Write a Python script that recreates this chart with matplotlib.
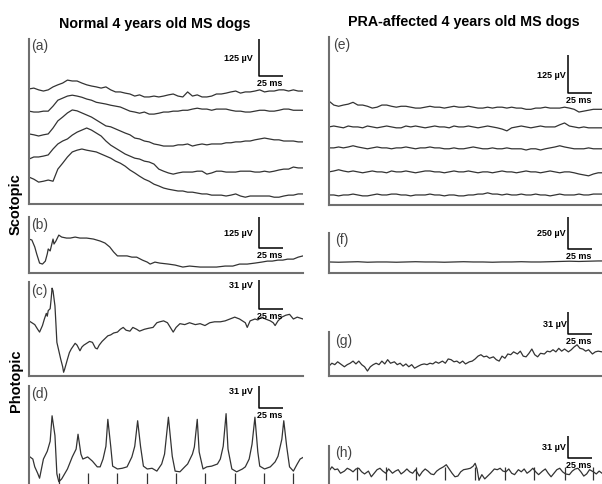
import matplotlib
matplotlib.use("Agg")
import matplotlib.pyplot as plt
import numpy as np

plt.rcParams['font.family'] = ['Liberation Sans', 'DejaVu Sans']

# ---------------- data (time in ms, amplitude in µV) ----------------
TITLE_LEFT = "Normal 4 years old MS dogs"
TITLE_RIGHT = "PRA-affected 4 years old MS dogs"
ROW_LABELS = ["Scotopic", "Photopic"]
PANEL_LETTERS = ["(a)", "(b)", "(c)", "(d)", "(e)", "(f)", "(g)", "(h)"]
SCALE_UV = {"a": "125 µV", "b": "125 µV", "c": "31 µV", "d": "31 µV",
            "e": "125 µV", "f": "250 µV", "g": "31 µV", "h": "31 µV"}
SCALE_UV_VAL = {"a": 125, "b": 125, "c": 31, "d": 31, "e": 125, "f": 250, "g": 31, "h": 31}
SCALE_MS_LABEL = "25 ms"
SCALE_MS_VAL = 25

T_A = [0, 5, 10, 15, 20, 25, 30, 35, 40, 45, 50, 55, 60, 65, 70, 75, 80, 85, 90, 95,
       100, 105, 110, 115, 120, 125, 130, 135, 140, 145, 150, 155, 160, 165, 170, 175,
       180, 185, 190, 195, 200, 205, 210, 215, 220, 225, 230, 235, 240, 245, 250, 255,
       260, 265, 270, 275, 280, 285]

a1 = [0, 3, -3, -7, -3, 7, 14, 20, 30, 27, 27, 20, 14, 10, 7, 3, 7, -3, -10, -10,
      -14, -17, -24, -20, -27, -27, -24, -27, -24, -20, -17, -24, -27, -10, -24, -20,
      -27, -27, -24, -17, -17, -14, -10, -7, -14, -10, -10, -7, -3, -10, -7, -7, -3,
      -3, -7, -3, -7, -7]
a2 = [0, -3, -3, 0, 0, 17, 37, 44, 51, 54, 51, 47, 41, 37, 30, 27, 24, 20, 17, 14,
      7, 0, -3, -7, -3, -10, -10, -7, -3, -3, 0, 0, 3, 3, 7, 10, 7, 7, 3, 7, 7, 7, 3,
      0, 0, -3, -3, 0, 3, 3, 0, 0, 3, 7, 7, 3, 3, 3]
a3 = [0, -3, -7, -3, 0, 20, 44, 57, 71, 81, 78, 71, 64, 57, 47, 37, 27, 24, 17, 10,
      3, -3, -14, -17, -24, -27, -34, -37, -41, -41, -41, -37, -37, -34, -41, -37, -34,
      -37, -34, -34, -34, -30, -30, -27, -27, -24, -24, -20, -17, -14, -17, -20, -20,
      -24, -24, -24, -27, -27]
a4 = [0, 7, 7, 10, 14, 34, 51, 61, 68, 81, 91, 98, 105, 98, 88, 78, 61, 47, 37, 27,
      17, 10, 3, 0, -7, -10, -17, -34, -41, -47, -51, -47, -44, -44, -44, -41, -41,
      -51, -47, -41, -41, -44, -44, -44, -41, -41, -41, -44, -44, -41, -44, -41, -37,
      -34, -34, -27, -30, -30]
a5 = [0, -7, -17, -14, -10, -14, 27, 47, 68, 85, 91, 95, 91, 88, 85, 78, 71, 64, 54,
      47, 37, 24, 14, 3, -7, -14, -24, -30, -37, -41, -44, -47, -47, -51, -51, -54,
      -57, -57, -61, -61, -61, -64, -61, -57, -64, -68, -64, -64, -64, -64, -64, -68,
      -68, -64, -61, -61, -57, -57]

b_t = [0, 3, 6, 8, 11, 14, 17, 19, 20, 22, 24, 25, 26, 28, 29, 31, 34, 39, 43, 48,
       53, 60, 67, 74, 79, 84, 88, 92, 97, 102, 107, 112, 118, 123, 126, 131, 136, 145,
       152, 160, 167, 178, 188, 195, 204, 212, 219, 227, 235, 242, 248, 253, 259, 264,
       269, 275, 280, 285]
b_v = [137, 133, 105, 77, 40, 36, 48, 77, 97, 89, 121, 137, 117, 129, 137, 153, 145,
       141, 141, 145, 141, 141, 137, 129, 121, 105, 85, 69, 69, 69, 64, 64, 52, 44, 36,
       44, 40, 36, 32, 24, 28, 24, 24, 24, 28, 28, 36, 36, 40, 44, 48, 48, 52, 52, 56,
       56, 64, 69]

c_t = [0, 3, 6, 9, 11, 14, 16, 18, 19, 20, 22, 23, 24, 25, 27, 28, 29, 31, 33, 35,
       36, 37, 40, 42, 44, 46, 48, 50, 53, 55, 57, 60, 63, 66, 69, 71, 73, 76, 79, 82,
       85, 88, 92, 95, 98, 101, 105, 108, 112, 115, 120, 124, 129, 133, 136, 140, 144,
       147, 150, 153, 157, 162, 167, 173, 178, 183, 188, 193, 199, 204, 209, 214, 219,
       225, 227, 230, 235, 238, 242, 246, 251, 254, 256, 259, 263, 267, 271, 275, 279,
       282, 285]
c_v = [59, 57, 55, 50, 47, 54, 61, 67, 64, 70, 72, 82, 94, 91, 75, 56, 36, 27, 18, 10,
       4, 7, 18, 25, 29, 32, 35, 33, 27, 31, 33, 35, 37, 36, 30, 29, 33, 37, 40, 43,
       44, 46, 47, 50, 52, 49, 48, 52, 50, 48, 50, 51, 52, 57, 58, 59, 57, 52, 47, 52,
       56, 55, 57, 55, 56, 54, 57, 58, 58, 59, 61, 63, 61, 57, 52, 59, 61, 60, 63, 61,
       59, 57, 54, 59, 63, 65, 66, 61, 63, 62, 61]

d_t = [0, 4, 6, 9, 11, 15, 19, 22, 24, 27, 29, 31, 34, 40, 45, 49, 51, 54, 56, 61,
       66, 71, 74, 77, 80, 82, 85, 87, 92, 97, 102, 107, 110, 113, 116, 119, 123, 128,
       133, 138, 141, 145, 149, 152, 157, 162, 165, 170, 172, 175, 177, 181, 185, 190,
       196, 199, 202, 205, 207, 211, 216, 222, 225, 229, 232, 235, 238, 240, 245, 251,
       256, 259, 263, 265, 268, 271, 275, 279, 282, 286]
d_v = [42, 38, 27, 18, 11, 38, 49, 63, 99, 71, 17, 6, 10, 24, 41, 52, 73, 45, 38, 41,
       35, 27, 27, 38, 56, 94, 56, 28, 24, 25, 27, 41, 56, 92, 56, 28, 24, 25, 21, 31,
       45, 97, 42, 21, 20, 27, 31, 45, 55, 94, 48, 24, 27, 28, 31, 38, 56, 102, 52, 24,
       20, 24, 27, 38, 59, 97, 48, 28, 24, 27, 34, 42, 66, 92, 56, 27, 21, 31, 38, 41]
d_flash_ms = [31, 61, 92, 123, 153, 183, 214, 244, 275]

T_E = T_A
e1 = [20, 7, 3, 7, 10, 16, 7, 7, 3, -3, 0, 7, 7, 3, 0, 3, 3, 0, -3, -3, 0, 3, 0, 0,
      -3, 0, 3, 0, 0, 3, 0, -3, -3, 0, -3, 0, 0, -3, 0, -3, -3, -7, -7, -3, -3, 0, -3,
      -3, -3, 0, -3, -7, -16, -13, -10, -7, -7, -7]
e2 = [0, 3, 0, -3, 3, 0, 0, -3, 3, 0, -3, 0, 3, 0, -3, -3, 3, 0, 3, 0, -3, 0, 3, 0,
      0, -3, 3, 0, 0, 3, 0, -3, 0, 3, 0, -3, -7, -13, -3, 0, 3, 0, -3, 0, 3, 0, 0, 0,
      7, 13, 3, 0, -3, 0, -3, -3, -3, -3]
e3 = [0, 0, 3, 0, 3, 7, 3, 0, -3, 0, 3, 0, 0, -3, 0, 0, 3, 0, -3, 0, 0, 3, 0, 0, -3,
      -3, 0, -3, -3, 0, 3, 0, -3, -3, 0, -3, -3, 0, -3, -3, -3, -7, -3, -3, -7, -3, 0,
      3, 7, 3, 0, -3, -3, -3, 0, -3, -3, -3]
e4 = [0, 3, 7, 3, 0, 3, 0, -3, 0, 3, 0, 0, -3, 3, 0, 0, 3, 0, -3, 0, 3, 3, 0, 0, -3,
      0, 3, 0, 0, 3, 0, -3, 0, 0, -3, 0, 3, 0, 0, -3, 0, 3, 0, 0, -3, 0, 3, 0, -3, 0,
      0, -3, -7, -10, -13, -7, -3, -3]
e5 = [0, 0, -3, 0, 0, 3, 0, -3, -3, 0, 3, 0, 0, 3, 3, 0, 0, -3, 0, 0, 0, 3, 0, 0, -3,
      0, 0, -3, -3, 0, 0, 3, 3, 7, 3, 3, 0, 3, 0, 0, 3, 0, 0, 3, 0, 0, -3, 0, 3, 0, 0,
      0, 3, 0, 0, 3, 3, 3]

f_t = [0, 10, 20, 30, 40, 50, 60, 70, 80, 90, 100, 110, 120, 130, 140, 150, 160, 170,
       180, 190, 200, 210, 220, 230, 240, 250, 260, 270, 280, 285]
f_v = [86, 84, 86, 88, 84, 86, 86, 84, 86, 88, 86, 86, 84, 86, 88, 86, 86, 84, 86, 86,
       88, 86, 86, 88, 90, 92, 90, 92, 94, 94]

g_t = [0, 3, 6, 9, 12, 16, 19, 22, 25, 28, 31, 34, 37, 40, 43, 46, 49, 52, 55, 58,
       61, 64, 68, 71, 74, 77, 80, 83, 86, 89, 93, 96, 99, 102, 105, 108, 111, 114, 118,
       121, 124, 127, 130, 133, 136, 139, 142, 146, 149, 152, 155, 158, 161, 164, 167,
       171, 174, 177, 180, 183, 186, 189, 192, 196, 199, 202, 205, 208, 211, 214, 217,
       220, 224, 227, 230, 233, 236, 239, 242, 245, 249, 252, 255, 258, 261, 264, 267,
       270, 274, 277, 280, 284]
g_v = [14, 18, 16, 20, 17, 13, 16, 18, 21, 17, 21, 16, 13, 7, 13, 16, 18, 16, 21, 17,
       23, 18, 20, 16, 18, 14, 17, 13, 16, 11, 14, 16, 17, 16, 18, 17, 20, 18, 21, 18,
       24, 23, 20, 21, 18, 21, 17, 20, 21, 24, 28, 30, 27, 28, 25, 27, 23, 21, 28, 25,
       31, 30, 34, 31, 35, 28, 27, 32, 38, 30, 27, 32, 31, 35, 34, 37, 34, 39, 35, 38,
       34, 37, 41, 44, 39, 38, 35, 37, 31, 34, 35, 34]

h_t = [0, 3, 6, 9, 12, 16, 19, 22, 25, 28, 31, 34, 37, 41, 44, 47, 50, 53, 56, 59,
       62, 66, 69, 72, 75, 78, 81, 84, 87, 90, 94, 97, 100, 103, 106, 109, 112, 115,
       119, 122, 125, 128, 131, 134, 137, 140, 144, 147, 150, 152, 154, 156, 159, 162,
       165, 168, 172, 175, 178, 181, 184, 187, 190, 193, 197, 200, 203, 206, 209, 212,
       215, 218, 222, 225, 228, 231, 234, 237, 240, 243, 246, 250, 253, 256, 259, 262,
       265, 268, 271, 275, 278, 281, 284]
h_v = [21, 27, 23, 24, 18, 21, 25, 23, 20, 24, 25, 20, 17, 21, 13, 18, 23, 25, 21, 18,
       24, 18, 21, 23, 17, 20, 24, 20, 18, 23, 14, 20, 24, 21, 17, 16, 21, 24, 27, 30,
       24, 18, 13, 14, 20, 23, 24, 25, 28, 32, 24, 8,
       16, 10, 14, 18, 24, 23, 25, 21, 20, 24, 18, 16, 23, 20, 24, 18, 21, 25, 20, 16,
       21, 24, 18, 13, 18, 23, 25, 20, 17, 16, 21, 24, 25, 20, 14, 17, 23, 20, 17, 21, 18]
h_flash_ms = [29, 59, 90, 121, 152, 183, 213, 245, 275]

# ---------------- layout / style ----------------
W, H = 602, 485
TRACE = "#333333"
SPINE = "#6f6f6f"

fig = plt.figure(figsize=(W / 100, H / 100), dpi=100)


def box(x0, y0, x1, y1):
    return [x0 / W, 1 - y1 / H, (x1 - x0) / W, (y1 - y0) / H]


def make_ax(x0, y0, x1, y1, ylim, show_bottom=True):
    ax = fig.add_axes(box(x0, y0, x1, y1))
    ax.set_xlim(0, 285)
    ax.set_ylim(*ylim)
    for s in ["top", "right"]:
        ax.spines[s].set_visible(False)
    ax.spines["bottom"].set_visible(show_bottom)
    for s in ["left", "bottom"]:
        ax.spines[s].set_color(SPINE)
        ax.spines[s].set_linewidth(1.5)
    ax.set_xticks([])
    ax.set_yticks([])
    ax.patch.set_alpha(0)
    return ax


def scale_bar(ax, key, cx, cy, label_at_top=False, gap=6):
    L = SCALE_UV_VAL[key]
    ax.plot([cx, cx, cx + SCALE_MS_VAL], [cy + L, cy, cy], color="black",
            lw=1.1, clip_on=False, solid_capstyle="butt")
    if label_at_top:
        ax.annotate(SCALE_UV[key], xy=(cx, cy + L), xytext=(-gap, 0),
                    textcoords="offset pixels", ha="right", va="top",
                    fontsize=6.5, fontweight="bold", annotation_clip=False)
    else:
        ax.annotate(SCALE_UV[key], xy=(cx, cy + L / 2), xytext=(-gap, 0),
                    textcoords="offset pixels", ha="right", va="center",
                    fontsize=6.5, fontweight="bold", annotation_clip=False)
    ax.annotate(SCALE_MS_LABEL, xy=(cx, cy), xytext=(-2, -2),
                textcoords="offset pixels", ha="left", va="top",
                fontsize=6.5, fontweight="bold", annotation_clip=False)


# (a)
ax_a = make_ax(29, 40, 303, 205, (0, 558))
for tr, off in zip([a1, a2, a3, a4, a5], [389, 314, 237, 152, 91]):
    ax_a.plot(T_A, np.array(tr) + off, color=TRACE, lw=0.9)
scale_bar(ax_a, "a", 239, 433)

# (b)
ax_b = make_ax(29, 218, 303, 274, (0, 226))
ax_b.plot(b_t, b_v, color=TRACE, lw=0.9)
scale_bar(ax_b, "b", 239, 101)

# (c)
ax_c = make_ax(29, 283, 303, 377, (0, 100.6))
ax_c.plot(c_t, c_v, color=TRACE, lw=0.9)
scale_bar(ax_c, "c", 239, 72, label_at_top=True)

# (d)
ax_d = make_ax(29, 387, 303, 487, (0, 141), show_bottom=False)
ax_d.plot(d_t, d_v, color=TRACE, lw=0.9)
ax_d.vlines(d_flash_ms, 0, 18, color=TRACE, lw=0.9)
scale_bar(ax_d, "d", 239, 110, label_at_top=True)

# (e)
ax_e = make_ax(329, 38, 603, 206, (0, 553))
for tr, off in zip([e1, e2, e3, e4, e5], [322, 257, 188, 109, 33]):
    ax_e.plot(T_E, np.array(tr) + off, color=TRACE, lw=0.9)
scale_bar(ax_e, "e", 249, 368, gap=3)

# (f)
ax_f = make_ax(329, 234, 603, 274, (0, 312))
ax_f.plot(f_t, f_v, color=TRACE, lw=0.9)
scale_bar(ax_f, "f", 249, 187, gap=3)

# (g)
ax_g = make_ax(329, 333, 603, 377, (0, 62))
ax_g.plot(g_t, g_v, color=TRACE, lw=0.9)
scale_bar(ax_g, "g", 249, 59, gap=2)

# (h)
ax_h = make_ax(329, 447, 603, 487, (0, 56.4), show_bottom=False)
ax_h.plot(h_t, h_v, color=TRACE, lw=0.9)
ax_h.vlines(h_flash_ms, 9, 27, color=TRACE, lw=0.9)
scale_bar(ax_h, "h", 249, 39.5, gap=3)

# panel letters
letter_pos = [(31, 39), (31, 218), (31, 284), (31, 387),
              (333, 38), (335, 233), (335, 334), (335, 446)]
for lab, (x, y) in zip(PANEL_LETTERS, letter_pos):
    fig.text(x / W, 1 - y / H, lab, ha="left", va="top", fontsize=10, color="#444444")

# titles
fig.text(155 / W, 1 - 28 / H, TITLE_LEFT, ha="center", va="baseline",
         fontsize=10.3, fontweight="bold")
fig.text(464 / W, 1 - 26 / H, TITLE_RIGHT, ha="center", va="baseline",
         fontsize=10.3, fontweight="bold")

# row labels
fig.text(16 / W, 1 - 204 / H, ROW_LABELS[0], ha="center", va="center",
         rotation=90, fontsize=10.5, fontweight="bold")
fig.text(16 / W, 1 - 381 / H, ROW_LABELS[1], ha="center", va="center",
         rotation=90, fontsize=10.5, fontweight="bold")

fig.savefig("out.png", dpi=100)
